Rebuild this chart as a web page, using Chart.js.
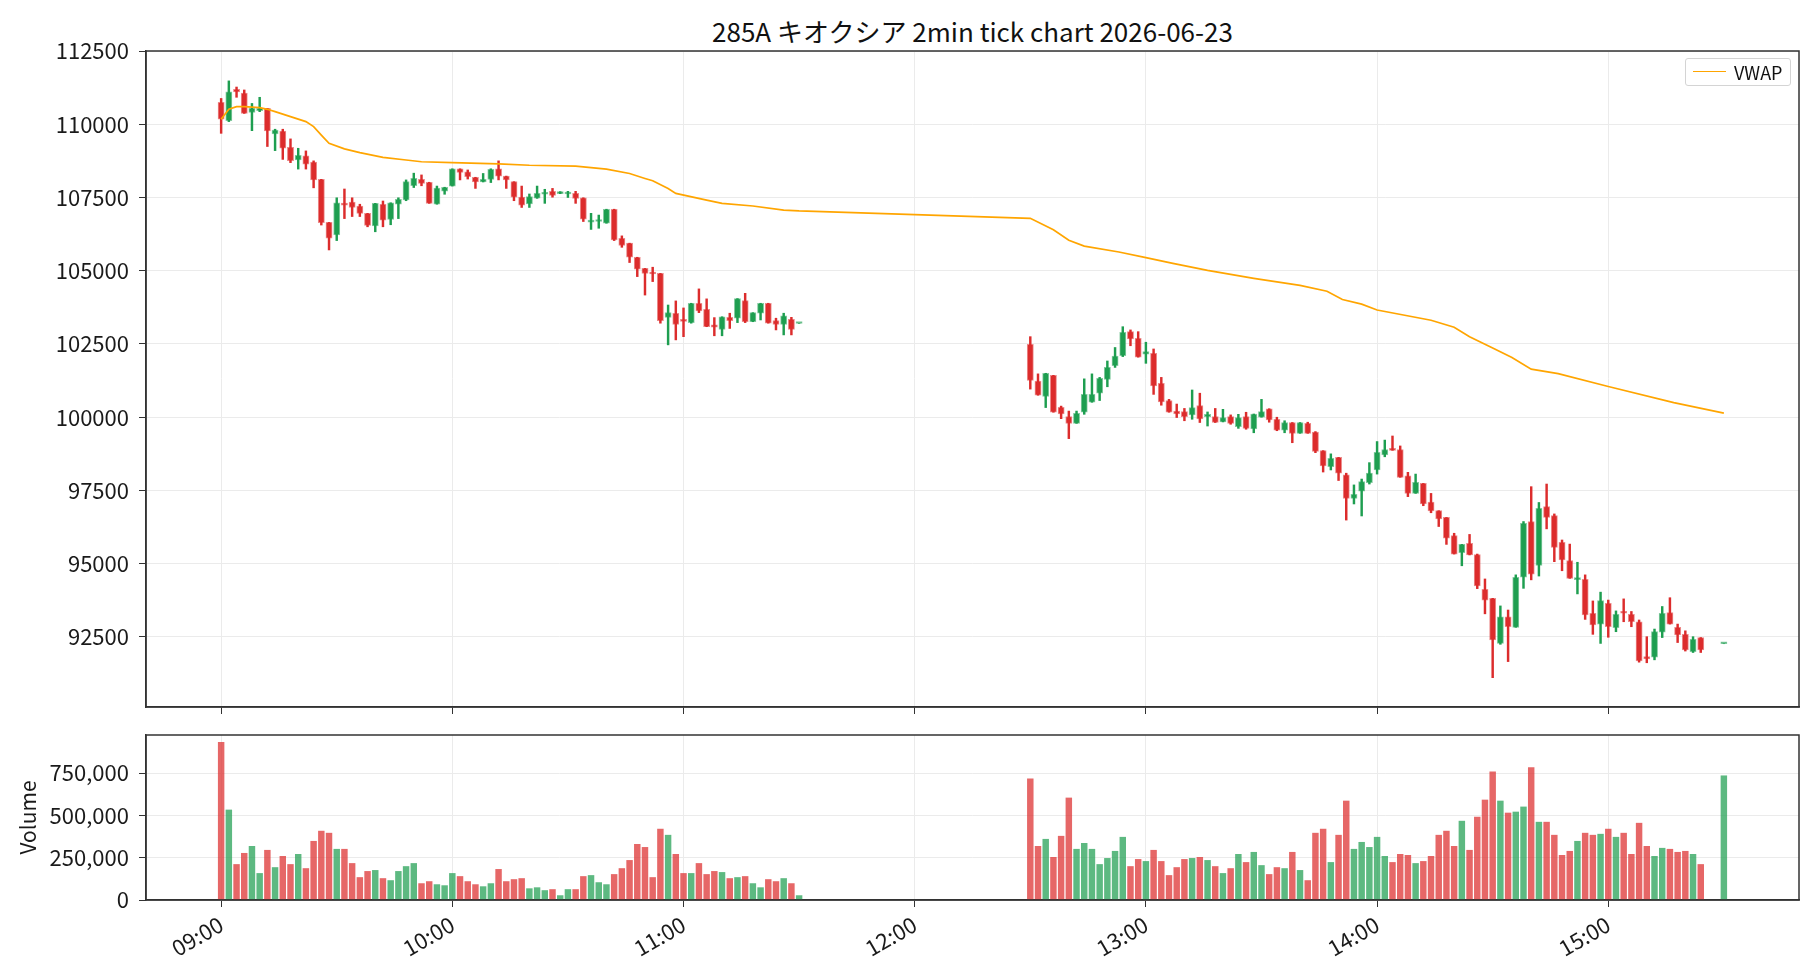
<!DOCTYPE html>
<html>
<head>
<meta charset="utf-8">
<script src="https://cdn.jsdelivr.net/npm/chart.js@4.4.1/dist/chart.umd.min.js"></script>
<style>
  body { margin: 0; background: #fff; width: 1820px; height: 980px; overflow: hidden; position: relative;
         font-family: "Noto Sans CJK JP", "Noto Sans", sans-serif; }
  canvas { position: absolute; left: 0; }
  #price { top: 0; }
  #volume { top: 720px; }
  #title { position: absolute; left: 146px; width: 1653px; top: 12px; line-height: 38px;
           text-align: center; font-size: 26px; color: #111; }
  #legend { position: absolute; left: 1685px; top: 58px; width: 106px; height: 28px; box-sizing: border-box;
            border: 1px solid #d4d4d4; border-radius: 3px; background: #fff; font-size: 18px; color: #111;
            line-height: 26px; }
  #legend .sw { position: absolute; left: 7px; top: 12px; width: 33px; height: 0; border-top: 1.7px solid #ffa500; }
  #legend .tx { position: absolute; left: 48px; top: 0; }
</style>
</head>
<body>
<div id="title">285A キオクシア 2min tick chart 2026-06-23</div>
<canvas id="price" width="1820" height="720"></canvas>
<canvas id="volume" width="1820" height="260"></canvas>
<div id="legend"><span class="sw"></span><span class="tx">VWAP</span></div>
<script>
// trading sessions (2 minute bars); last one is the closing auction
const sessions = [['09:00', '11:30'], ['12:30', '15:24'], ['15:30', '15:30']]
const hourTicks = ['09:00', '10:00', '11:00', '12:00', '13:00', '14:00', '15:00']
const priceTicks = [92500, 95000, 97500, 100000, 102500, 105000, 107500, 110000, 112500]
const volumeTicks = [0, 250000, 500000, 750000]

const opens = [
  110750, 110120, 111190, 111060, 110400, 110460, 110540, 109670, 109770, 109210,
  108780, 108920, 108710, 108120, 106650, 106220, 107300, 107340, 107210, 106960,
  106530, 107270, 106750, 107270, 107420, 107900, 108120, 108020, 107270, 107720,
  107890, 108480, 108380, 108190, 108030, 108120, 108480, 108230, 108040, 107510,
  107280, 107480, 107610, 107710, 107630, 107620, 107640, 107490, 106660, 106680,
  106620, 107100, 106110, 105940, 105460, 105080, 104940, 104910, 103410, 103550,
  103340, 103230, 103890, 103680, 103150, 103000, 103410, 103380, 103980, 103260,
  103550, 103890, 103300, 103170, 103340, 103200,
  102490, 101230, 100710, 101430, 100340, 100020, 99790, 100170, 100510, 100820,
  101290, 101760, 102100, 102920, 102690, 102150, 102180, 101160, 100570, 100210,
  100190, 100080, 100400, 100020, 100020, 99840, 100020, 99680, 100020, 99600,
  100000, 100290, 99930, 99560, 99820, 99450, 99790, 99490, 98860, 98310,
  98630, 98030, 97230, 97480, 97770, 98200, 98710, 98900, 98900, 98000,
  97400, 97740, 97100, 96810, 96580, 95960, 95380, 95700, 95310, 94130,
  93820, 92280, 93190, 92830, 94540, 96440, 94940, 96950, 96640, 95730,
  95110, 94460, 94470, 93310, 92940, 93650, 92820, 93340, 93270, 93020,
  91830, 91810, 92660, 93330, 92830, 92590, 92000, 92480,
  92270
]
const highs = [
  110880, 111480, 111270, 111170, 110710, 110920, 110540, 109830, 109830, 109500,
  109180, 109090, 108750, 108120, 106650, 107490, 107790, 107490, 107270, 106960,
  107300, 107380, 107320, 107490, 108100, 108330, 108270, 108020, 107890, 107850,
  108480, 108480, 108440, 108190, 108320, 108480, 108750, 108230, 108040, 107890,
  107620, 107890, 107780, 107810, 107700, 107710, 107710, 107490, 106960, 106900,
  107100, 107100, 106190, 105940, 105460, 105080, 105120, 104910, 103830, 103970,
  103730, 103890, 104380, 104040, 103400, 103430, 103550, 104050, 104230, 103570,
  103890, 103890, 103380, 103550, 103410, 103200,
  102750, 101480, 101500, 101430, 100380, 100210, 100210, 101310, 101480, 101360,
  101920, 102380, 103090, 102980, 102920, 102560, 102330, 101360, 100610, 100450,
  100300, 100930, 100820, 100180, 100300, 100270, 100080, 100100, 100170, 100110,
  100610, 100290, 100000, 99880, 99820, 99820, 99830, 99510, 98860, 98750,
  98630, 98090, 97690, 97890, 98450, 99170, 99220, 99360, 99020, 98120,
  98060, 97740, 97400, 96810, 96580, 96040, 95660, 96000, 95330, 94480,
  93820, 93560, 93420, 94620, 96440, 97630, 97090, 97720, 96700, 95810,
  95670, 95050, 94620, 93730, 94030, 93760, 93390, 93800, 93370, 93080,
  92510, 92770, 93540, 93840, 92940, 92710, 92510, 92480,
  92270
]
const lows = [
  109690, 110090, 110920, 110370, 109780, 110430, 109240, 109100, 108800, 108690,
  108470, 108470, 107830, 106560, 105710, 106030, 106780, 106850, 106850, 106500,
  106330, 106500, 106570, 106780, 107390, 107840, 107900, 107300, 107270, 107610,
  107890, 108100, 108130, 107810, 108030, 108010, 108100, 107810, 107390, 107160,
  107160, 107470, 107300, 107510, 107630, 107500, 107300, 106680, 106410, 106450,
  106620, 106030, 105800, 105280, 104800, 104170, 104630, 103210, 102470, 102640,
  102750, 103210, 103570, 103090, 102780, 102780, 103030, 103230, 103230, 103260,
  103320, 103210, 102980, 102810, 102810, 103200,
  100960, 100750, 100330, 100170, 99950, 99270, 99790, 100100, 100510, 100570,
  101040, 101700, 102070, 102440, 102050, 101840, 100780, 100410, 100170, 99990,
  99880, 99930, 99820, 99700, 99820, 99840, 99760, 99620, 99590, 99470,
  100000, 99830, 99540, 99470, 99130, 99450, 99450, 98790, 98130, 98200,
  97840, 96490, 97040, 96630, 97720, 98060, 98650, 98870, 97950, 97290,
  97400, 96980, 96740, 96270, 95660, 95330, 94930, 95300, 94150, 93290,
  91110, 92250, 91660, 92830, 94160, 94450, 94580, 96190, 95070, 94760,
  94500, 93970, 93100, 92590, 92280, 92490, 92680, 93020, 92850, 91640,
  91620, 91720, 92480, 92940, 92310, 92020, 91970, 91970,
  92270
]
const closes = [
  110170, 111110, 111100, 110370, 110540, 110540, 109770, 109800, 109180, 108760,
  108940, 108640, 108100, 106640, 106110, 107320, 107240, 107160, 106960, 106550,
  107300, 106730, 107320, 107440, 108040, 108150, 107980, 107300, 107820, 107850,
  108480, 108360, 108210, 108030, 108120, 108460, 108230, 108100, 107510, 107240,
  107530, 107640, 107640, 107570, 107700, 107640, 107470, 106760, 106700, 106730,
  107100, 106050, 105860, 105460, 105050, 104910, 104890, 103300, 103570, 103170,
  103270, 103890, 103630, 103090, 103070, 103430, 103300, 104050, 103260, 103570,
  103890, 103210, 103170, 103460, 103000, 103200,
  101260, 100750, 101500, 100170, 100110, 99790, 100130, 100780, 100780, 101330,
  101700, 102090, 102900, 102670, 102050, 102240, 101070, 100520, 100170, 100110,
  100020, 100330, 99940, 100100, 99820, 99990, 99790, 99990, 99620, 100110,
  100190, 99910, 99560, 99820, 99450, 99820, 99450, 98830, 98340, 98600,
  98090, 97230, 97370, 97800, 98090, 98800, 98900, 98870, 97950, 97400,
  97780, 97040, 96800, 96530, 95870, 95330, 95660, 95300, 94240, 93760,
  92400, 93190, 92850, 94540, 96380, 94640, 96890, 96580, 95560, 95130,
  94500, 94480, 93250, 92910, 93740, 92850, 93270, 93310, 93020, 91680,
  91750, 92680, 93310, 92940, 92570, 92060, 92420, 92060,
  92270
]
const volumes = [
  932000, 532000, 210000, 276000, 317000, 157000, 294000, 192000, 258000, 210000,
  270000, 186000, 347000, 407000, 395000, 300000, 300000, 216000, 133000, 169000,
  175000, 127000, 115000, 169000, 198000, 216000, 97000, 109000, 91000, 85000,
  157000, 139000, 109000, 91000, 79000, 97000, 181000, 109000, 121000, 127000,
  67000, 73000, 56000, 62000, 26000, 62000, 62000, 139000, 145000, 103000,
  91000, 151000, 186000, 234000, 329000, 311000, 133000, 419000, 383000, 270000,
  157000, 157000, 216000, 151000, 169000, 163000, 127000, 133000, 139000, 97000,
  73000, 121000, 109000, 127000, 97000, 26000,
  716000, 317000, 359000, 252000, 377000, 603000, 300000, 335000, 300000, 210000,
  246000, 288000, 371000, 198000, 240000, 228000, 294000, 228000, 145000, 192000,
  240000, 246000, 252000, 234000, 198000, 157000, 186000, 270000, 222000, 282000,
  204000, 151000, 192000, 186000, 282000, 175000, 115000, 395000, 419000, 222000,
  383000, 585000, 300000, 341000, 311000, 371000, 258000, 222000, 270000, 264000,
  216000, 228000, 258000, 383000, 407000, 317000, 466000, 294000, 490000, 591000,
  758000, 585000, 514000, 520000, 550000, 782000, 460000, 460000, 383000, 264000,
  288000, 347000, 395000, 383000, 389000, 419000, 371000, 395000, 270000, 454000,
  317000, 258000, 306000, 300000, 282000, 288000, 270000, 210000,
  734000
]

// VWAP (time, value)
const vwapTimes = [
  '09:00', '09:02', '09:04', '09:06', '09:10', '09:12', '09:14', '09:18', '09:22', '09:24',
  '09:26', '09:28', '09:32', '09:36', '09:42', '09:48', '09:52', '10:00', '10:12', '10:20',
  '10:32', '10:40', '10:46', '10:50', '10:52', '10:56', '10:58', '11:06', '11:10', '11:18',
  '11:26', '11:30',
  '12:30', '12:36', '12:40', '12:44', '12:53', '13:00', '13:07', '13:16', '13:28', '13:40',
  '13:47', '13:51', '13:56', '14:00', '14:14', '14:20', '14:24', '14:30', '14:35', '14:40',
  '14:47', '15:00', '15:17', '15:30'
]
const vwapValues = [
  110170, 110510, 110600, 110600, 110570, 110510, 110430, 110260, 110090, 109920,
  109630, 109350, 109160, 109030, 108870, 108780, 108720, 108690, 108650, 108600,
  108570, 108470, 108320, 108150, 108070, 107810, 107640, 107410, 107300, 107210,
  107070, 107040,
  106790, 106400, 106040, 105840, 105640, 105450, 105250, 105010, 104740, 104500,
  104300, 104020, 103860, 103660, 103310, 103070, 102750, 102360, 102040, 101640,
  101490, 101050, 100500, 100140
]

// minutes after 09:00
const toMin = s => { const [h, m] = s.split(':').map(Number); return (h - 9) * 60 + m }
const fmtTime = v => String(9 + Math.floor(v / 60)).padStart(2, '0') + ':' + String(v % 60).padStart(2, '0')

const times = []
sessions.forEach(([a, b]) => { for (let t = toMin(a); t <= toMin(b); t += 2) times.push(t) })

const UP = '#1e9e50'
const DOWN = '#dc2c2c'
const GRID = '#ebebeb'
const AXIS = '#333333'
const TEXT = '#1a1a1a'
const TICK_FONT = {size: 22}

const isUp = closes.map((c, i) => c >= opens[i])
const bodies = times.map((t, i) => ({x: t, y: [opens[i], closes[i]]}))
const wicks = times.map((t, i) => ({x: t, y: [lows[i], highs[i]]}))
const vols = times.map((t, i) => ({x: t, y: volumes[i]}))
const vwap = vwapTimes.map((s, i) => ({x: toMin(s), y: vwapValues[i]}))

Chart.defaults.font.family = '"Noto Sans CJK JP", "Noto Sans", sans-serif'
Chart.defaults.color = TEXT

// draw the full box around the plot area
const frame = {
  id: 'frame',
  afterDraw(chart) {
    const {ctx, chartArea: a} = chart
    ctx.save()
    ctx.strokeStyle = AXIS
    ctx.lineWidth = 1.5
    ctx.strokeRect(a.left, a.top, a.right - a.left, a.bottom - a.top)
    ctx.restore()
  }
}

// fixed axis sizes so the plot area sits where it should
const noPad = s => { s.paddingTop = 0; s.paddingBottom = 0; s.paddingLeft = 0; s.paddingRight = 0 }

// x axis shared by both panels, 5% margin around 09:00-15:30
function xAxis(showLabels) {
  return {
    type: 'linear',
    min: -19.5,
    max: 409.5,
    offset: false,
    afterBuildTicks: s => { s.ticks = hourTicks.map(h => ({value: toMin(h)})) },
    afterFit: s => { s.height = showLabels ? 80 : 13; noPad(s) },
    grid: {color: GRID, tickColor: AXIS, tickLength: 7, offset: false},
    border: {color: AXIS, width: 1.5},
    ticks: {
      autoSkip: false,
      maxRotation: 30,
      minRotation: 30,
      padding: 4,
      font: TICK_FONT,
      color: TEXT,
      callback: v => showLabels ? fmtTime(v) : ''
    }
  }
}

function yAxis(min, max, ticks, fmt, title) {
  return {
    min,
    max,
    afterBuildTicks: s => { s.ticks = ticks.map(v => ({value: v})) },
    afterFit: s => { s.width = 146; noPad(s) },
    grid: {color: GRID, tickColor: AXIS, tickLength: 7},
    border: {color: AXIS, width: 1.5},
    title: title
      ? {display: true, text: title, font: {size: 21}, color: TEXT, padding: {top: 15, bottom: 0}}
      : {display: false},
    ticks: {font: TICK_FONT, color: TEXT, padding: 10, callback: fmt}
  }
}

new Chart(document.getElementById('price'), {
  type: 'bar',
  data: {
    datasets: [
      {
        type: 'line', label: 'VWAP', data: vwap, borderColor: '#ffa500', borderWidth: 1.7,
        pointRadius: 0, tension: 0, order: 0
      },
      {
        label: 'body', data: bodies, grouped: false, order: 1,
        backgroundColor: isUp.map(u => u ? UP : DOWN),
        borderColor: isUp.map(u => u ? 'rgba(30,158,80,0.55)' : 'rgba(220,44,44,0.55)'),
        borderWidth: 1, borderSkipped: false, barThickness: 6.2, minBarLength: 2
      },
      {
        label: 'wick', data: wicks, grouped: false, order: 2,
        backgroundColor: isUp.map(u => u ? UP : DOWN),
        barThickness: 1.8
      }
    ]
  },
  options: {
    responsive: false,
    animation: false,
    layout: {padding: {top: 51, right: 21, left: 0, bottom: 0}},
    plugins: {legend: {display: false}, tooltip: {enabled: false}},
    scales: {
      x: xAxis(false),
      y: yAxis(90110, 112500, priceTicks, v => String(v))
    }
  },
  plugins: [frame]
})

new Chart(document.getElementById('volume'), {
  type: 'bar',
  data: {
    datasets: [{
      label: 'Volume', data: vols, grouped: false, barThickness: 5.8,
      backgroundColor: isUp.map(u => u ? 'rgba(30,158,80,0.72)' : 'rgba(220,44,44,0.72)')
    }]
  },
  options: {
    responsive: false,
    animation: false,
    layout: {padding: {top: 15, right: 21, left: 0, bottom: 0}},
    plugins: {legend: {display: false}, tooltip: {enabled: false}},
    scales: {
      x: xAxis(true),
      y: yAxis(0, 975000, volumeTicks, v => v.toLocaleString('en-US'), 'Volume')
    }
  },
  plugins: [frame]
})
</script>
</body>
</html>
